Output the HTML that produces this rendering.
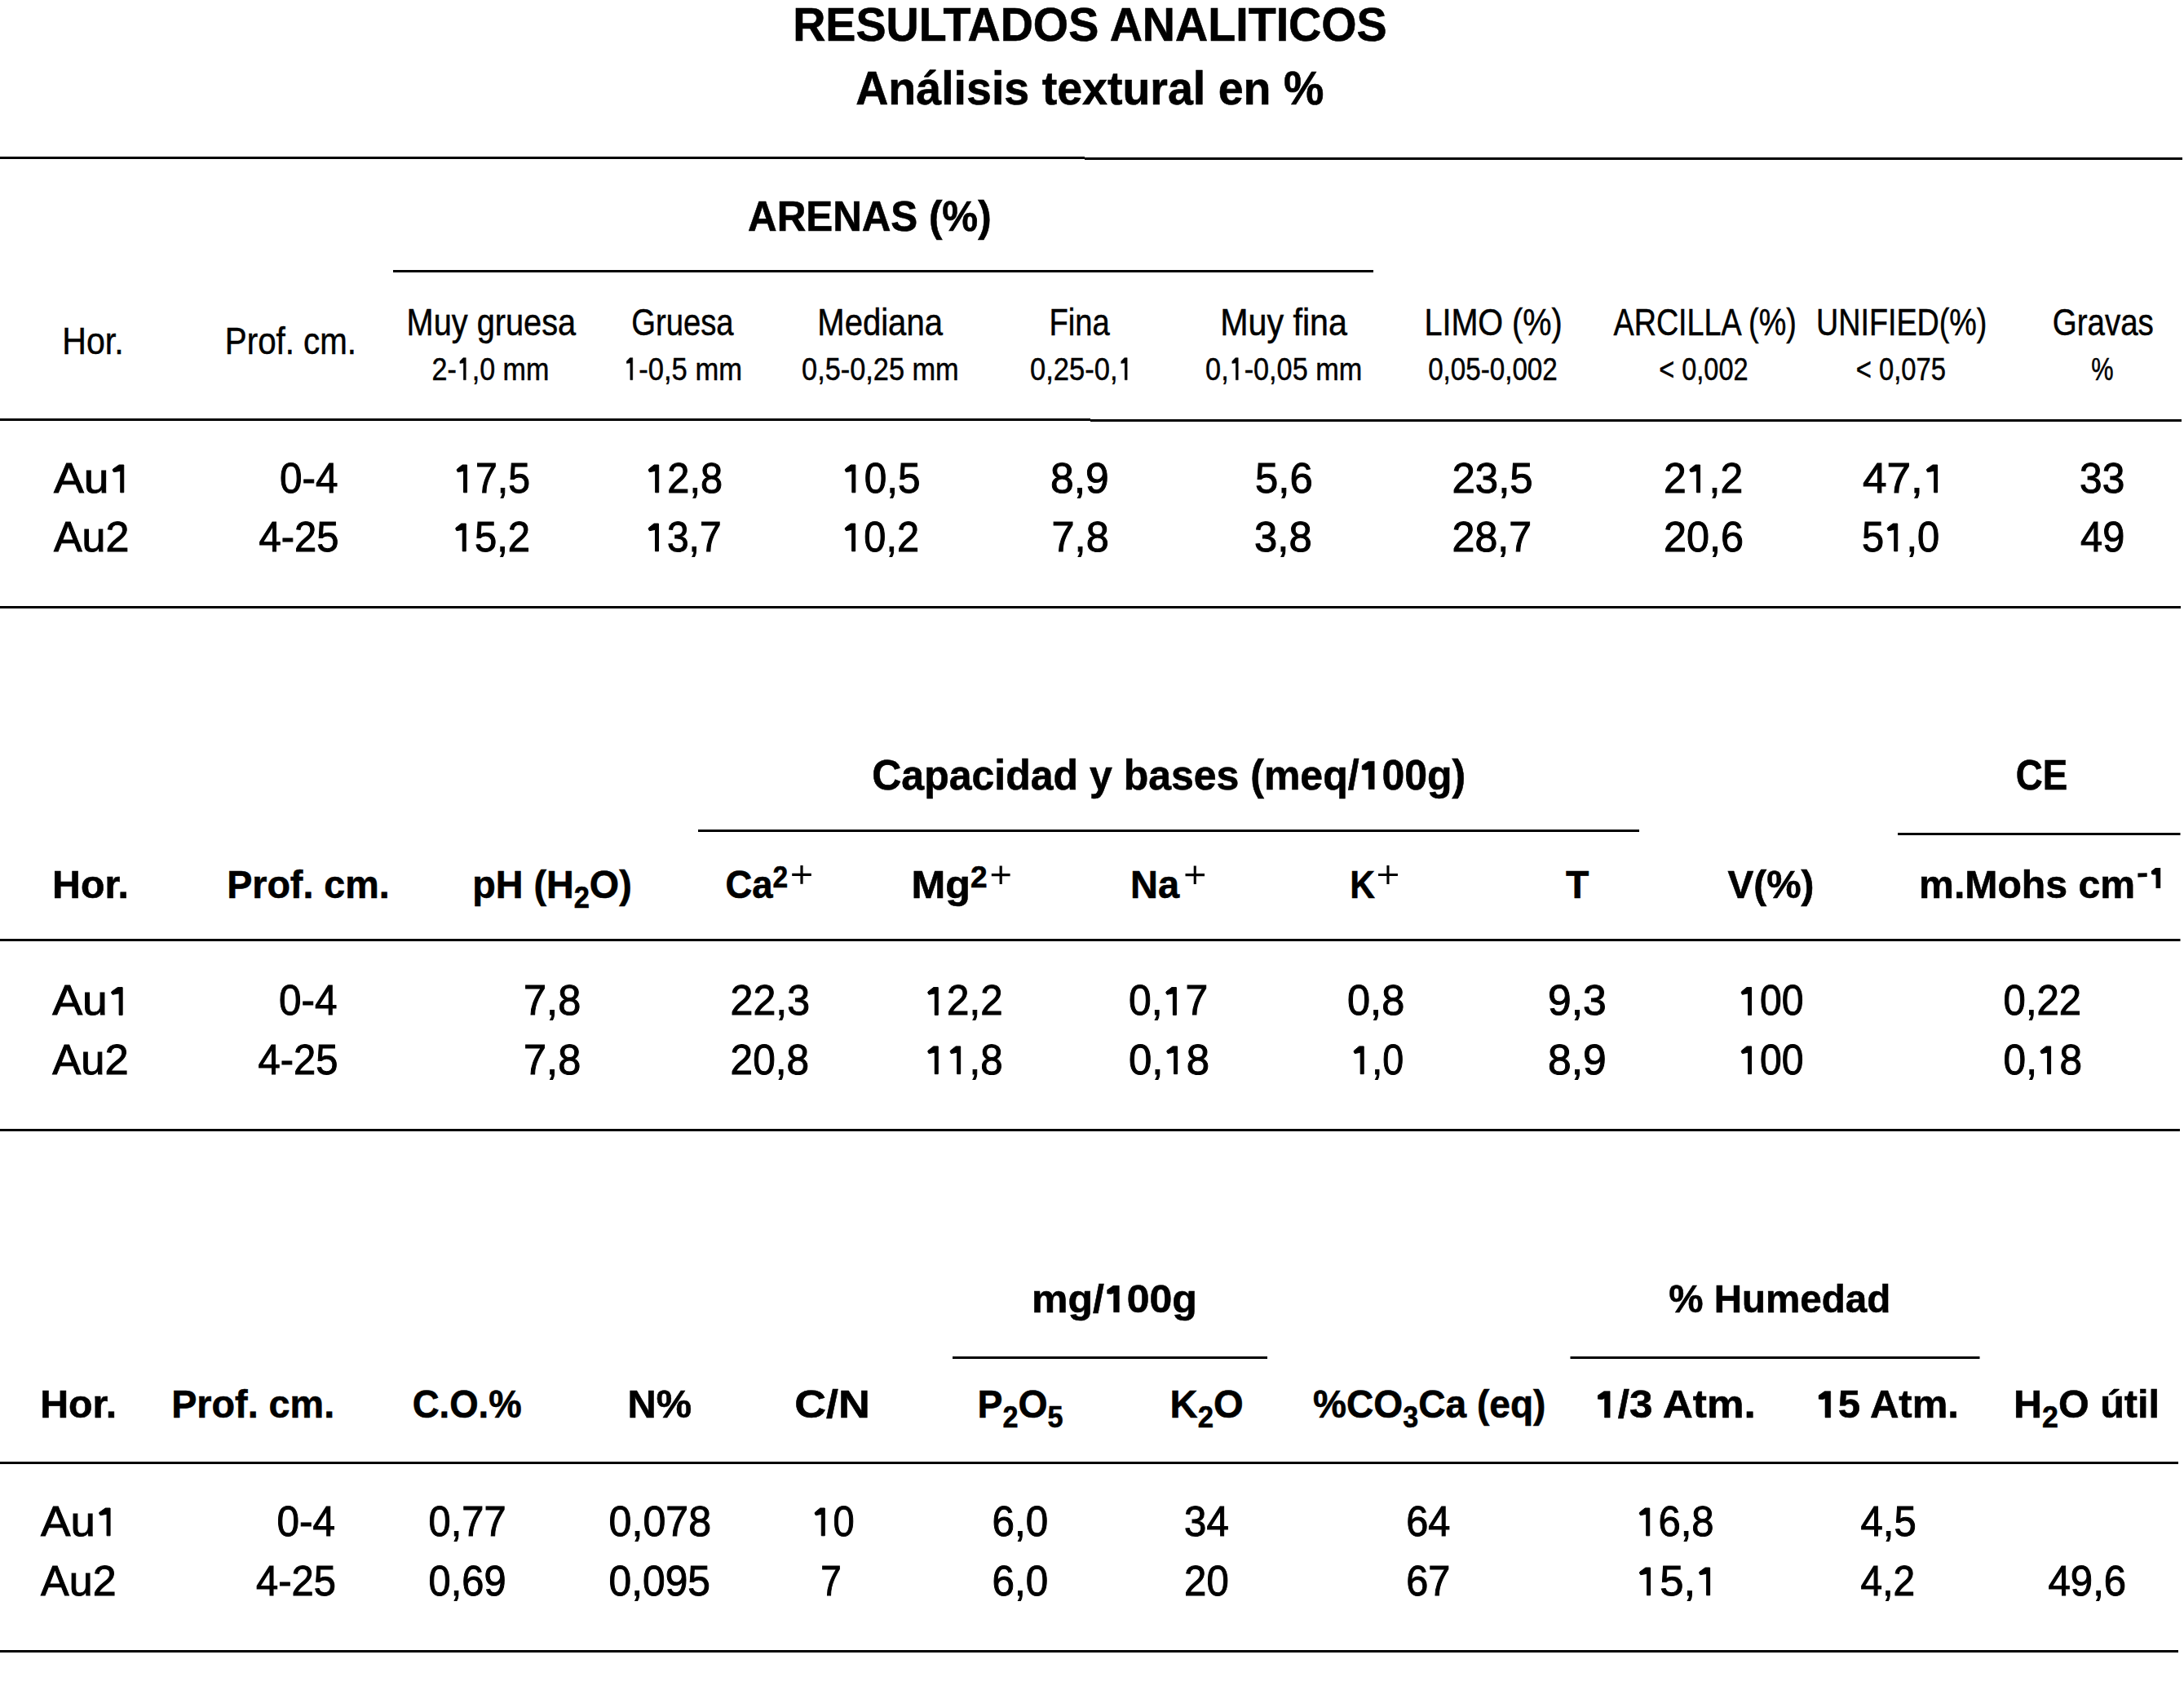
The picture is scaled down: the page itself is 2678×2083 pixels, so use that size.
<!DOCTYPE html>
<html><head><meta charset="utf-8"><style>
html,body{margin:0;padding:0;background:#fff;width:2678px;height:2083px;overflow:hidden}
svg{display:block;font-family:"Liberation Sans",sans-serif}
line{stroke:#000;stroke-width:3}
text{fill:#000}
path,rect{fill:#000}
</style></head><body>
<svg width="2678" height="2083" viewBox="0 0 2678 2083">
<g><rect x="0.0" y="192.0" width="1330.0" height="3.0"/>
<rect x="1330.0" y="193.0" width="1346.0" height="3.0"/>
<rect x="482.0" y="331.0" width="1202.0" height="3.0"/>
<rect x="0.0" y="513.0" width="1337.0" height="3.0"/>
<rect x="1337.0" y="514.0" width="1338.0" height="3.0"/>
<rect x="0.0" y="743.0" width="2674.0" height="3.0"/>
<rect x="856.0" y="1017.0" width="1154.0" height="3.0"/>
<rect x="2327.0" y="1021.0" width="346.5" height="3.0"/>
<rect x="0.0" y="1151.0" width="2673.5" height="3.0"/>
<rect x="0.0" y="1384.0" width="2673.0" height="3.0"/>
<rect x="1168.0" y="1663.0" width="386.0" height="3.0"/>
<rect x="1925.5" y="1663.0" width="502.0" height="3.0"/>
<rect x="0.0" y="1792.0" width="2671.0" height="3.0"/>
<rect x="0.0" y="2023.0" width="2671.0" height="3.0"/>
<path d="M971.2 1070.8H994.8V1073.9H971.2ZM981.4 1061.0H984.6V1083.7H981.4Z"/>
<path d="M1215.8 1071.1H1238.6V1074.2H1215.8ZM1225.6 1061.4H1228.8V1083.9H1225.6Z"/>
<path d="M1453.5 1071.1H1477.0V1074.2H1453.5ZM1463.7 1061.4H1466.8V1083.9H1463.7Z"/>
<path d="M1690.0 1070.9H1713.9V1074.0H1690.0ZM1700.4 1061.0H1703.5V1083.9H1700.4Z"/>
<path d="M2621.4 1070.6 L2632.7 1070.2 L2632.7 1075.0 L2621.4 1075.4Z"/>
<path d="M2649.2 1064.1 L2649.2 1088.9 L2643.5 1088.9 L2643.5 1072.6 L2639.8 1072.4 L2637.9 1071.2 L2637.9 1068.0 L2643.0 1064.1Z"/></g>
<g><text x="972.16" y="49.90" font-size="58" font-weight="bold" stroke="#000" stroke-width="0.6" textLength="728.54" lengthAdjust="spacingAndGlyphs">RESULTADOS ANALITICOS</text>
<text x="1049.23" y="127.70" font-size="57.5" font-weight="bold" stroke="#000" stroke-width="0.6" textLength="574.09" lengthAdjust="spacingAndGlyphs">Análisis textural en %</text>
<text x="917.05" y="282.80" font-size="51.8" font-weight="bold" stroke="#000" stroke-width="0.6" textLength="298.54" lengthAdjust="spacingAndGlyphs">ARENAS (%)</text>
<text x="498.59" y="410.80" font-size="45.6" font-weight="normal" stroke="#000" stroke-width="0.5" textLength="207.61" lengthAdjust="spacingAndGlyphs">Muy gruesa</text>
<text x="774.32" y="410.80" font-size="45.6" font-weight="normal" stroke="#000" stroke-width="0.5" textLength="125.27" lengthAdjust="spacingAndGlyphs">Gruesa</text>
<text x="1002.37" y="410.80" font-size="45.6" font-weight="normal" stroke="#000" stroke-width="0.5" textLength="153.55" lengthAdjust="spacingAndGlyphs">Mediana</text>
<text x="1286.49" y="410.80" font-size="45.6" font-weight="normal" stroke="#000" stroke-width="0.5" textLength="74.26" lengthAdjust="spacingAndGlyphs">Fina</text>
<text x="1496.29" y="410.80" font-size="45.6" font-weight="normal" stroke="#000" stroke-width="0.5" textLength="155.59" lengthAdjust="spacingAndGlyphs">Muy fina</text>
<text x="1746.40" y="410.80" font-size="45.6" font-weight="normal" stroke="#000" stroke-width="0.5" textLength="169.25" lengthAdjust="spacingAndGlyphs">LIMO (%)</text>
<text x="1978.50" y="410.80" font-size="45.6" font-weight="normal" stroke="#000" stroke-width="0.5" textLength="224.26" lengthAdjust="spacingAndGlyphs">ARCILLA (%)</text>
<text x="2227.02" y="410.80" font-size="45.6" font-weight="normal" stroke="#000" stroke-width="0.5" textLength="209.38" lengthAdjust="spacingAndGlyphs">UNIFIED(%)</text>
<text x="2516.81" y="410.80" font-size="45.6" font-weight="normal" stroke="#000" stroke-width="0.5" textLength="124.00" lengthAdjust="spacingAndGlyphs">Gravas</text>
<text x="76.30" y="433.90" font-size="45.6" font-weight="normal" stroke="#000" stroke-width="0.5" textLength="75.37" lengthAdjust="spacingAndGlyphs">Hor.</text>
<text x="275.85" y="433.90" font-size="45.6" font-weight="normal" stroke="#000" stroke-width="0.5" textLength="161.16" lengthAdjust="spacingAndGlyphs">Prof. cm.</text>
<text x="529.45" y="465.80" font-size="39" font-weight="normal" stroke="#000" stroke-width="0.5" textLength="143.83" lengthAdjust="spacingAndGlyphs">2- ,0 mm</text>
<text x="764.07" y="465.80" font-size="39" font-weight="normal" stroke="#000" stroke-width="0.5" textLength="145.94" lengthAdjust="spacingAndGlyphs"> -0,5 mm</text>
<text x="983.12" y="465.80" font-size="39" font-weight="normal" stroke="#000" stroke-width="0.5" textLength="192.57" lengthAdjust="spacingAndGlyphs">0,5-0,25 mm</text>
<text x="1263.12" y="465.80" font-size="39" font-weight="normal" stroke="#000" stroke-width="0.5" textLength="126.56" lengthAdjust="spacingAndGlyphs">0,25-0, </text>
<text x="1478.12" y="465.80" font-size="39" font-weight="normal" stroke="#000" stroke-width="0.5" textLength="192.06" lengthAdjust="spacingAndGlyphs">0, -0,05 mm</text>
<text x="1751.15" y="465.80" font-size="39" font-weight="normal" stroke="#000" stroke-width="0.5" textLength="158.63" lengthAdjust="spacingAndGlyphs">0,05-0,002</text>
<text x="2034.34" y="465.80" font-size="39" font-weight="normal" stroke="#000" stroke-width="0.5" textLength="109.18" lengthAdjust="spacingAndGlyphs">&lt; 0,002</text>
<text x="2275.82" y="465.80" font-size="39" font-weight="normal" stroke="#000" stroke-width="0.5" textLength="110.20" lengthAdjust="spacingAndGlyphs">&lt; 0,075</text>
<text x="2564.21" y="465.80" font-size="39" font-weight="normal" stroke="#000" stroke-width="0.5" textLength="27.33" lengthAdjust="spacingAndGlyphs">%</text>
<text x="65.90" y="603.80" font-size="52" font-weight="normal" stroke="#000" stroke-width="1.0" textLength="98.24" lengthAdjust="spacingAndGlyphs">Au </text>
<text x="343.10" y="603.80" font-size="52" font-weight="normal" stroke="#000" stroke-width="1.0" textLength="71.50" lengthAdjust="spacingAndGlyphs">0-4</text>
<text x="556.29" y="603.80" font-size="52" font-weight="normal" stroke="#000" stroke-width="1.0" textLength="93.76" lengthAdjust="spacingAndGlyphs"> 7,5</text>
<text x="791.25" y="603.80" font-size="52" font-weight="normal" stroke="#000" stroke-width="1.0" textLength="94.83" lengthAdjust="spacingAndGlyphs"> 2,8</text>
<text x="1032.19" y="603.80" font-size="52" font-weight="normal" stroke="#000" stroke-width="1.0" textLength="96.42" lengthAdjust="spacingAndGlyphs"> 0,5</text>
<text x="1288.01" y="603.80" font-size="52" font-weight="normal" stroke="#000" stroke-width="1.0" textLength="71.77" lengthAdjust="spacingAndGlyphs">8,9</text>
<text x="1539.04" y="603.80" font-size="52" font-weight="normal" stroke="#000" stroke-width="1.0" textLength="70.70" lengthAdjust="spacingAndGlyphs">5,6</text>
<text x="1780.54" y="603.80" font-size="52" font-weight="normal" stroke="#000" stroke-width="1.0" textLength="99.13" lengthAdjust="spacingAndGlyphs">23,5</text>
<text x="2040.08" y="603.80" font-size="52" font-weight="normal" stroke="#000" stroke-width="1.0" textLength="97.04" lengthAdjust="spacingAndGlyphs">2 ,2</text>
<text x="2283.98" y="603.80" font-size="52" font-weight="normal" stroke="#000" stroke-width="1.0" textLength="103.49" lengthAdjust="spacingAndGlyphs">47, </text>
<text x="2550.09" y="603.80" font-size="52" font-weight="normal" stroke="#000" stroke-width="1.0" textLength="55.17" lengthAdjust="spacingAndGlyphs">33</text>
<text x="65.90" y="675.80" font-size="52" font-weight="normal" stroke="#000" stroke-width="1.0" textLength="92.53" lengthAdjust="spacingAndGlyphs">Au2</text>
<text x="317.56" y="675.80" font-size="52" font-weight="normal" stroke="#000" stroke-width="1.0" textLength="97.90" lengthAdjust="spacingAndGlyphs">4-25</text>
<text x="554.73" y="675.80" font-size="52" font-weight="normal" stroke="#000" stroke-width="1.0" textLength="95.36" lengthAdjust="spacingAndGlyphs"> 5,2</text>
<text x="791.32" y="675.80" font-size="52" font-weight="normal" stroke="#000" stroke-width="1.0" textLength="93.23" lengthAdjust="spacingAndGlyphs"> 3,7</text>
<text x="1032.25" y="675.80" font-size="52" font-weight="normal" stroke="#000" stroke-width="1.0" textLength="94.83" lengthAdjust="spacingAndGlyphs"> 0,2</text>
<text x="1289.56" y="675.80" font-size="52" font-weight="normal" stroke="#000" stroke-width="1.0" textLength="70.17" lengthAdjust="spacingAndGlyphs">7,8</text>
<text x="1538.04" y="675.80" font-size="52" font-weight="normal" stroke="#000" stroke-width="1.0" textLength="70.70" lengthAdjust="spacingAndGlyphs">3,8</text>
<text x="1780.57" y="675.80" font-size="52" font-weight="normal" stroke="#000" stroke-width="1.0" textLength="97.57" lengthAdjust="spacingAndGlyphs">28,7</text>
<text x="2040.06" y="675.80" font-size="52" font-weight="normal" stroke="#000" stroke-width="1.0" textLength="98.09" lengthAdjust="spacingAndGlyphs">20,6</text>
<text x="2283.12" y="675.80" font-size="52" font-weight="normal" stroke="#000" stroke-width="1.0" textLength="95.02" lengthAdjust="spacingAndGlyphs">5 ,0</text>
<text x="2551.06" y="675.80" font-size="52" font-weight="normal" stroke="#000" stroke-width="1.0" textLength="54.16" lengthAdjust="spacingAndGlyphs">49</text>
<text x="1069.27" y="967.60" font-size="51.8" font-weight="bold" stroke="#000" stroke-width="0.6" textLength="727.90" lengthAdjust="spacingAndGlyphs">Capacidad y bases (meq/ 00g)</text>
<text x="2471.74" y="967.60" font-size="51.8" font-weight="bold" stroke="#000" stroke-width="0.6" textLength="63.50" lengthAdjust="spacingAndGlyphs">CE</text>
<text x="64.03" y="1100.50" font-size="48.8" font-weight="bold" stroke="#000" stroke-width="0.6" textLength="93.95" lengthAdjust="spacingAndGlyphs">Hor.</text>
<text x="278.13" y="1100.50" font-size="48.8" font-weight="bold" stroke="#000" stroke-width="0.6" textLength="199.54" lengthAdjust="spacingAndGlyphs">Prof. cm.</text>
<text x="579.23" y="1100.50" font-size="48.8" font-weight="bold" stroke="#000" stroke-width="0.6" textLength="195.51" lengthAdjust="spacingAndGlyphs"><tspan font-size="48.8" font-weight="bold" dy="0">pH (H</tspan><tspan font-size="36" font-weight="bold" dy="12">2</tspan><tspan font-size="48.8" font-weight="bold" dy="-12">O)</tspan></text>
<text x="889.44" y="1100.50" font-size="48.8" font-weight="bold" stroke="#000" stroke-width="0.6" textLength="76.76" lengthAdjust="spacingAndGlyphs"><tspan font-size="48.8" font-weight="bold" dy="0">Ca</tspan><tspan font-size="36" font-weight="bold" dy="-12.5">2</tspan></text>
<text x="1117.41" y="1100.50" font-size="48.8" font-weight="bold" stroke="#000" stroke-width="0.6" textLength="93.10" lengthAdjust="spacingAndGlyphs"><tspan font-size="48.8" font-weight="bold" dy="0">Mg</tspan><tspan font-size="36" font-weight="bold" dy="-12.5">2</tspan></text>
<text x="1386.12" y="1100.50" font-size="48.8" font-weight="bold" stroke="#000" stroke-width="0.6" textLength="60.00" lengthAdjust="spacingAndGlyphs">Na</text>
<text x="1655.28" y="1100.50" font-size="48.8" font-weight="bold" stroke="#000" stroke-width="0.6" textLength="30.73" lengthAdjust="spacingAndGlyphs">K</text>
<text x="1920.00" y="1100.50" font-size="48.8" font-weight="bold" stroke="#000" stroke-width="0.6" textLength="28.32" lengthAdjust="spacingAndGlyphs">T</text>
<text x="2118.50" y="1100.50" font-size="48.8" font-weight="bold" stroke="#000" stroke-width="0.6" textLength="105.88" lengthAdjust="spacingAndGlyphs">V(%)</text>
<text x="2353.04" y="1100.50" font-size="48.8" font-weight="bold" stroke="#000" stroke-width="0.6" textLength="265.07" lengthAdjust="spacingAndGlyphs">m.Mohs cm</text>
<text x="64.20" y="1244.40" font-size="52" font-weight="normal" stroke="#000" stroke-width="1.0" textLength="98.36" lengthAdjust="spacingAndGlyphs">Au </text>
<text x="342.10" y="1244.40" font-size="52" font-weight="normal" stroke="#000" stroke-width="1.0" textLength="71.50" lengthAdjust="spacingAndGlyphs">0-4</text>
<text x="642.06" y="1244.40" font-size="52" font-weight="normal" stroke="#000" stroke-width="1.0" textLength="70.17" lengthAdjust="spacingAndGlyphs">7,8</text>
<text x="895.57" y="1244.40" font-size="52" font-weight="normal" stroke="#000" stroke-width="1.0" textLength="97.57" lengthAdjust="spacingAndGlyphs">22,3</text>
<text x="1133.71" y="1244.40" font-size="52" font-weight="normal" stroke="#000" stroke-width="1.0" textLength="95.89" lengthAdjust="spacingAndGlyphs"> 2,2</text>
<text x="1384.08" y="1244.40" font-size="52" font-weight="normal" stroke="#000" stroke-width="1.0" textLength="97.04" lengthAdjust="spacingAndGlyphs">0, 7</text>
<text x="1652.06" y="1244.40" font-size="52" font-weight="normal" stroke="#000" stroke-width="1.0" textLength="70.17" lengthAdjust="spacingAndGlyphs">0,8</text>
<text x="1898.01" y="1244.40" font-size="52" font-weight="normal" stroke="#000" stroke-width="1.0" textLength="71.77" lengthAdjust="spacingAndGlyphs">9,3</text>
<text x="2131.30" y="1244.40" font-size="52" font-weight="normal" stroke="#000" stroke-width="1.0" textLength="80.34" lengthAdjust="spacingAndGlyphs"> 00</text>
<text x="2456.61" y="1244.40" font-size="52" font-weight="normal" stroke="#000" stroke-width="1.0" textLength="95.48" lengthAdjust="spacingAndGlyphs">0,22</text>
<text x="64.20" y="1316.70" font-size="52" font-weight="normal" stroke="#000" stroke-width="1.0" textLength="93.46" lengthAdjust="spacingAndGlyphs">Au2</text>
<text x="316.56" y="1316.70" font-size="52" font-weight="normal" stroke="#000" stroke-width="1.0" textLength="97.90" lengthAdjust="spacingAndGlyphs">4-25</text>
<text x="642.06" y="1316.70" font-size="52" font-weight="normal" stroke="#000" stroke-width="1.0" textLength="70.17" lengthAdjust="spacingAndGlyphs">7,8</text>
<text x="895.59" y="1316.70" font-size="52" font-weight="normal" stroke="#000" stroke-width="1.0" textLength="96.52" lengthAdjust="spacingAndGlyphs">20,8</text>
<text x="1133.71" y="1316.70" font-size="52" font-weight="normal" stroke="#000" stroke-width="1.0" textLength="95.89" lengthAdjust="spacingAndGlyphs">  ,8</text>
<text x="1384.04" y="1316.70" font-size="52" font-weight="normal" stroke="#000" stroke-width="1.0" textLength="99.13" lengthAdjust="spacingAndGlyphs">0, 8</text>
<text x="1656.42" y="1316.70" font-size="52" font-weight="normal" stroke="#000" stroke-width="1.0" textLength="64.74" lengthAdjust="spacingAndGlyphs"> ,0</text>
<text x="1898.01" y="1316.70" font-size="52" font-weight="normal" stroke="#000" stroke-width="1.0" textLength="71.77" lengthAdjust="spacingAndGlyphs">8,9</text>
<text x="2131.30" y="1316.70" font-size="52" font-weight="normal" stroke="#000" stroke-width="1.0" textLength="80.34" lengthAdjust="spacingAndGlyphs"> 00</text>
<text x="2456.59" y="1316.70" font-size="52" font-weight="normal" stroke="#000" stroke-width="1.0" textLength="96.52" lengthAdjust="spacingAndGlyphs">0, 8</text>
<text x="1264.94" y="1608.70" font-size="49" font-weight="bold" stroke="#000" stroke-width="0.6" textLength="202.93" lengthAdjust="spacingAndGlyphs">mg/ 00g</text>
<text x="2046.13" y="1608.70" font-size="49" font-weight="bold" stroke="#000" stroke-width="0.6" textLength="272.24" lengthAdjust="spacingAndGlyphs">% Humedad</text>
<text x="49.23" y="1737.90" font-size="48.8" font-weight="bold" stroke="#000" stroke-width="0.6" textLength="93.95" lengthAdjust="spacingAndGlyphs">Hor.</text>
<text x="210.13" y="1737.90" font-size="48.8" font-weight="bold" stroke="#000" stroke-width="0.6" textLength="200.05" lengthAdjust="spacingAndGlyphs">Prof. cm.</text>
<text x="505.63" y="1737.90" font-size="48.8" font-weight="bold" stroke="#000" stroke-width="0.6" textLength="134.02" lengthAdjust="spacingAndGlyphs">C.O.%</text>
<text x="769.50" y="1737.90" font-size="48.8" font-weight="bold" stroke="#000" stroke-width="0.6" textLength="78.64" lengthAdjust="spacingAndGlyphs">N%</text>
<text x="974.30" y="1737.90" font-size="48.8" font-weight="bold" stroke="#000" stroke-width="0.6" textLength="92.56" lengthAdjust="spacingAndGlyphs">C/N</text>
<text x="1198.45" y="1737.90" font-size="48.8" font-weight="bold" stroke="#000" stroke-width="0.6" textLength="105.12" lengthAdjust="spacingAndGlyphs"><tspan font-size="48.8" font-weight="bold" dy="0">P</tspan><tspan font-size="36" font-weight="bold" dy="12">2</tspan><tspan font-size="48.8" font-weight="bold" dy="-12">O</tspan><tspan font-size="36" font-weight="bold" dy="12">5</tspan></text>
<text x="1434.60" y="1737.90" font-size="48.8" font-weight="bold" stroke="#000" stroke-width="0.6" textLength="90.07" lengthAdjust="spacingAndGlyphs"><tspan font-size="48.8" font-weight="bold" dy="0">K</tspan><tspan font-size="36" font-weight="bold" dy="12">2</tspan><tspan font-size="48.8" font-weight="bold" dy="-12">O</tspan></text>
<text x="1610.06" y="1737.90" font-size="48.8" font-weight="bold" stroke="#000" stroke-width="0.6" textLength="285.35" lengthAdjust="spacingAndGlyphs"><tspan font-size="48.8" font-weight="bold" dy="0">%CO</tspan><tspan font-size="36" font-weight="bold" dy="12">3</tspan><tspan font-size="48.8" font-weight="bold" dy="-12">Ca (eq)</tspan></text>
<text x="1955.35" y="1737.90" font-size="48.8" font-weight="bold" stroke="#000" stroke-width="0.6" textLength="197.31" lengthAdjust="spacingAndGlyphs"> /3 Atm.</text>
<text x="2226.48" y="1737.90" font-size="48.8" font-weight="bold" stroke="#000" stroke-width="0.6" textLength="175.50" lengthAdjust="spacingAndGlyphs"> 5 Atm.</text>
<text x="2469.02" y="1737.90" font-size="48.8" font-weight="bold" stroke="#000" stroke-width="0.6" textLength="178.93" lengthAdjust="spacingAndGlyphs"><tspan font-size="48.8" font-weight="bold" dy="0">H</tspan><tspan font-size="36" font-weight="bold" dy="12">2</tspan><tspan font-size="48.8" font-weight="bold" dy="-12">O útil</tspan></text>
<text x="50.10" y="1882.80" font-size="52" font-weight="normal" stroke="#000" stroke-width="1.0" textLength="97.21" lengthAdjust="spacingAndGlyphs">Au </text>
<text x="339.60" y="1882.80" font-size="52" font-weight="normal" stroke="#000" stroke-width="1.0" textLength="71.50" lengthAdjust="spacingAndGlyphs">0-4</text>
<text x="525.62" y="1882.80" font-size="52" font-weight="normal" stroke="#000" stroke-width="1.0" textLength="94.96" lengthAdjust="spacingAndGlyphs">0,77</text>
<text x="746.57" y="1882.80" font-size="52" font-weight="normal" stroke="#000" stroke-width="1.0" textLength="125.49" lengthAdjust="spacingAndGlyphs">0,078</text>
<text x="995.38" y="1882.80" font-size="52" font-weight="normal" stroke="#000" stroke-width="1.0" textLength="52.28" lengthAdjust="spacingAndGlyphs"> 0</text>
<text x="1216.60" y="1882.80" font-size="52" font-weight="normal" stroke="#000" stroke-width="1.0" textLength="68.63" lengthAdjust="spacingAndGlyphs">6,0</text>
<text x="1452.11" y="1882.80" font-size="52" font-weight="normal" stroke="#000" stroke-width="1.0" textLength="54.69" lengthAdjust="spacingAndGlyphs">34</text>
<text x="1724.13" y="1882.80" font-size="52" font-weight="normal" stroke="#000" stroke-width="1.0" textLength="54.16" lengthAdjust="spacingAndGlyphs">64</text>
<text x="2006.23" y="1882.80" font-size="52" font-weight="normal" stroke="#000" stroke-width="1.0" textLength="95.36" lengthAdjust="spacingAndGlyphs"> 6,8</text>
<text x="2281.56" y="1882.80" font-size="52" font-weight="normal" stroke="#000" stroke-width="1.0" textLength="68.11" lengthAdjust="spacingAndGlyphs">4,5</text>
<text x="50.10" y="1955.80" font-size="52" font-weight="normal" stroke="#000" stroke-width="1.0" textLength="92.43" lengthAdjust="spacingAndGlyphs">Au2</text>
<text x="314.06" y="1955.80" font-size="52" font-weight="normal" stroke="#000" stroke-width="1.0" textLength="97.90" lengthAdjust="spacingAndGlyphs">4-25</text>
<text x="525.62" y="1955.80" font-size="52" font-weight="normal" stroke="#000" stroke-width="1.0" textLength="94.96" lengthAdjust="spacingAndGlyphs">0,69</text>
<text x="746.59" y="1955.80" font-size="52" font-weight="normal" stroke="#000" stroke-width="1.0" textLength="124.46" lengthAdjust="spacingAndGlyphs">0,095</text>
<text x="1006.24" y="1955.80" font-size="52" font-weight="normal" stroke="#000" stroke-width="1.0" textLength="25.45" lengthAdjust="spacingAndGlyphs">7</text>
<text x="1216.60" y="1955.80" font-size="52" font-weight="normal" stroke="#000" stroke-width="1.0" textLength="68.63" lengthAdjust="spacingAndGlyphs">6,0</text>
<text x="1452.11" y="1955.80" font-size="52" font-weight="normal" stroke="#000" stroke-width="1.0" textLength="54.63" lengthAdjust="spacingAndGlyphs">20</text>
<text x="1724.13" y="1955.80" font-size="52" font-weight="normal" stroke="#000" stroke-width="1.0" textLength="54.09" lengthAdjust="spacingAndGlyphs">67</text>
<text x="2005.95" y="1955.80" font-size="52" font-weight="normal" stroke="#000" stroke-width="1.0" textLength="102.40" lengthAdjust="spacingAndGlyphs"> 5, </text>
<text x="2281.58" y="1955.80" font-size="52" font-weight="normal" stroke="#000" stroke-width="1.0" textLength="66.53" lengthAdjust="spacingAndGlyphs">4,2</text>
<text x="2511.56" y="1955.80" font-size="52" font-weight="normal" stroke="#000" stroke-width="1.0" textLength="95.54" lengthAdjust="spacingAndGlyphs">49,6</text></g>
<g><path d="M571.25 438.70V465.80H568.35L568.35 444.90L563.90 445.40L563.90 443.00L567.91 438.70Z" stroke="#000" stroke-width="0.5"/>
<path d="M775.74 438.70V465.80H772.84L772.84 444.90L768.32 445.40L768.32 443.00L772.39 438.70Z" stroke="#000" stroke-width="0.5"/>
<path d="M1382.13 438.70V465.80H1379.23L1379.23 444.90L1374.72 445.40L1374.72 443.00L1378.78 438.70Z" stroke="#000" stroke-width="0.5"/>
<path d="M1518.22 438.70V465.80H1515.32L1515.32 444.90L1510.84 445.40L1510.84 443.00L1514.88 438.70Z" stroke="#000" stroke-width="0.5"/>
<path d="M151.74 570.00V603.80H147.74L147.74 577.30L139.57 578.70L138.29 576.70L138.40 575.30L145.94 570.00Z" stroke="#000" stroke-width="1.0"/>
<path d="M572.54 570.00V603.80H568.54L568.54 577.30L561.40 578.70L560.29 576.70L560.38 575.30L566.96 570.00Z" stroke="#000" stroke-width="1.0"/>
<path d="M807.66 570.00V603.80H803.66L803.66 577.30L796.44 578.70L795.32 576.70L795.41 575.30L802.06 570.00Z" stroke="#000" stroke-width="1.0"/>
<path d="M1048.84 570.00V603.80H1044.84L1044.84 577.30L1037.50 578.70L1036.36 576.70L1036.45 575.30L1043.22 570.00Z" stroke="#000" stroke-width="1.0"/>
<path d="M2084.54 570.00V603.80H2080.54L2080.54 577.30L2073.15 578.70L2072.00 576.70L2072.10 575.30L2078.91 570.00Z" stroke="#000" stroke-width="1.0"/>
<path d="M2375.60 570.00V603.80H2371.60L2371.60 577.30L2363.73 578.70L2362.50 576.70L2362.60 575.30L2369.86 570.00Z" stroke="#000" stroke-width="1.0"/>
<path d="M571.22 642.00V675.80H567.22L567.22 649.30L559.96 650.70L558.83 648.70L558.93 647.30L565.61 642.00Z" stroke="#000" stroke-width="1.0"/>
<path d="M807.48 642.00V675.80H803.48L803.48 649.30L796.38 650.70L795.28 648.70L795.37 647.30L801.91 642.00Z" stroke="#000" stroke-width="1.0"/>
<path d="M1048.66 642.00V675.80H1044.66L1044.66 649.30L1037.44 650.70L1036.32 648.70L1036.41 647.30L1043.06 642.00Z" stroke="#000" stroke-width="1.0"/>
<path d="M2326.69 642.00V675.80H2322.69L2322.69 649.30L2315.46 650.70L2314.34 648.70L2314.43 647.30L2321.10 642.00Z" stroke="#000" stroke-width="1.0"/>
<path d="M1685.17 933.42V967.60H1678.17L1678.17 942.76L1674.89 944.04L1670.17 943.50L1670.17 938.83L1677.55 933.42Z" stroke="#000" stroke-width="0.6"/>
<path d="M150.14 1210.60V1244.40H146.14L146.14 1217.90L137.96 1219.30L136.68 1217.30L136.79 1215.90L144.33 1210.60Z" stroke="#000" stroke-width="1.0"/>
<path d="M1150.28 1210.60V1244.40H1146.28L1146.28 1217.90L1138.98 1219.30L1137.84 1217.30L1137.94 1215.90L1144.66 1210.60Z" stroke="#000" stroke-width="1.0"/>
<path d="M1442.39 1210.60V1244.40H1438.39L1438.39 1217.90L1431.01 1219.30L1429.86 1217.30L1429.96 1215.90L1436.76 1210.60Z" stroke="#000" stroke-width="1.0"/>
<path d="M2147.53 1210.60V1244.40H2143.53L2143.53 1217.90L2136.40 1219.30L2135.29 1217.30L2135.38 1215.90L2141.96 1210.60Z" stroke="#000" stroke-width="1.0"/>
<path d="M1150.28 1282.90V1316.70H1146.28L1146.28 1290.20L1138.98 1291.60L1137.84 1289.60L1137.94 1288.20L1144.66 1282.90Z" stroke="#000" stroke-width="1.0"/>
<path d="M1177.66 1282.90V1316.70H1173.66L1173.66 1290.20L1166.37 1291.60L1165.23 1289.60L1165.32 1288.20L1172.05 1282.90Z" stroke="#000" stroke-width="1.0"/>
<path d="M1443.56 1282.90V1316.70H1439.56L1439.56 1290.20L1432.02 1291.60L1430.85 1289.60L1430.95 1288.20L1437.90 1282.90Z" stroke="#000" stroke-width="1.0"/>
<path d="M1672.19 1282.90V1316.70H1668.19L1668.19 1290.20L1661.29 1291.60L1660.22 1289.60L1660.31 1288.20L1666.66 1282.90Z" stroke="#000" stroke-width="1.0"/>
<path d="M2147.53 1282.90V1316.70H2143.53L2143.53 1290.20L2136.40 1291.60L2135.29 1289.60L2135.38 1288.20L2141.96 1282.90Z" stroke="#000" stroke-width="1.0"/>
<path d="M2514.60 1282.90V1316.70H2510.60L2510.60 1290.20L2503.26 1291.60L2502.11 1289.60L2502.21 1288.20L2508.98 1282.90Z" stroke="#000" stroke-width="1.0"/>
<path d="M1372.27 1576.37V1608.70H1365.64L1365.64 1585.20L1362.36 1586.41L1357.65 1585.91L1357.65 1581.49L1365.03 1576.37Z" stroke="#000" stroke-width="0.6"/>
<path d="M1974.12 1705.70V1737.90H1967.52L1967.52 1714.50L1964.16 1715.70L1959.33 1715.20L1959.33 1710.80L1966.89 1705.70Z" stroke="#000" stroke-width="0.6"/>
<path d="M2244.61 1705.70V1737.90H2238.01L2238.01 1714.50L2234.79 1715.70L2230.16 1715.20L2230.16 1710.80L2237.40 1705.70Z" stroke="#000" stroke-width="0.6"/>
<path d="M135.06 1849.00V1882.80H131.06L131.06 1856.30L122.98 1857.70L121.71 1855.70L121.82 1854.30L129.28 1849.00Z" stroke="#000" stroke-width="1.0"/>
<path d="M1011.28 1849.00V1882.80H1007.28L1007.28 1856.30L1000.32 1857.70L999.24 1855.70L999.33 1854.30L1005.74 1849.00Z" stroke="#000" stroke-width="1.0"/>
<path d="M2022.72 1849.00V1882.80H2018.72L2018.72 1856.30L2011.46 1857.70L2010.33 1855.70L2010.43 1854.30L2017.11 1849.00Z" stroke="#000" stroke-width="1.0"/>
<path d="M2023.51 1922.00V1955.80H2019.51L2019.51 1929.30L2011.72 1930.70L2010.50 1928.70L2010.60 1927.30L2017.79 1922.00Z" stroke="#000" stroke-width="1.0"/>
<path d="M2096.63 1922.00V1955.80H2092.63L2092.63 1929.30L2084.84 1930.70L2083.62 1928.70L2083.73 1927.30L2090.91 1922.00Z" stroke="#000" stroke-width="1.0"/></g>
</svg></body></html>
